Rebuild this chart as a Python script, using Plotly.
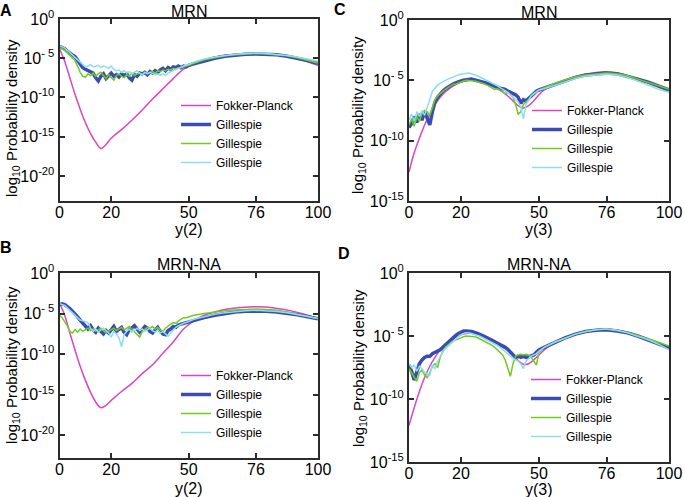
import plotly.graph_objects as go

W, H = 685, 497

# ---------------- data (log10 probability density) ----------------
FP_X_AB = [0, 2, 4, 6, 8, 10, 12, 14, 16, 18, 20, 24, 28, 32, 36, 40, 44, 48,
           52, 56, 60, 65, 70, 76, 80, 85, 90, 95, 100]
FP_A = [-3.8, -5.4, -7.5, -9.6, -11.5, -13.2, -14.6, -15.7, -16.5, -16.0, -15.2,
        -14.1, -12.9, -11.6, -10.2, -8.9, -7.6, -6.4, -5.7, -5.2, -4.85, -4.6,
        -4.45, -4.4, -4.45, -4.6, -4.9, -5.35, -5.9]
FP_B = [-3.7, -5.2, -7.4, -9.5, -11.5, -13.2, -14.7, -15.9, -16.6, -16.3, -15.7,
        -14.6, -13.6, -12.4, -11.3, -9.9, -8.5, -6.9, -5.9, -5.2, -4.8, -4.45,
        -4.25, -4.15, -4.2, -4.4, -4.7, -5.1, -5.6]

FP_X_CD = [0, 2, 4, 6, 8, 10, 12, 14, 16, 18, 20, 22, 24, 26, 28, 30, 32, 34, 36,
           38, 40, 42, 44, 46, 48, 50, 52, 56, 60, 64, 68, 72, 76, 80, 84, 88, 92,
           96, 100]
FP_C = [-12.6, -11.0, -9.8, -8.7, -7.8, -7.0, -6.4, -5.95, -5.6, -5.35, -5.15,
        -5.0, -4.95, -5.0, -5.1, -5.25, -5.45, -5.7, -5.95, -6.3, -6.7, -7.1,
        -7.3, -7.1, -6.7, -6.2, -5.8, -5.35, -5.0, -4.7, -4.5, -4.35, -4.3, -4.4,
        -4.6, -4.9, -5.2, -5.5, -5.8]
FP_D = [-12.1, -10.7, -9.4, -8.3, -7.4, -6.7, -6.1, -5.7, -5.35, -5.1, -4.9,
        -4.8, -4.75, -4.8, -4.9, -5.05, -5.25, -5.5, -5.8, -6.15, -6.55, -6.95,
        -7.25, -7.2, -6.9, -6.5, -6.1, -5.55, -5.15, -4.85, -4.65, -4.5, -4.45,
        -4.55, -4.75, -5.0, -5.3, -5.65, -6.0]

GX = [0, 1, 2, 3, 4, 5, 6, 7, 8, 9, 10, 11, 12, 13, 14, 15, 16, 17, 18, 19, 20,
      21, 22, 23, 24, 25, 26, 27, 28, 29, 30, 31, 32, 33, 34, 35, 36, 37, 38, 39,
      40, 41, 42, 43, 44, 45, 46, 47, 48, 49, 50,
      52, 56, 60, 64, 68, 72, 76, 80, 84, 88, 92, 96, 100]

GA_BLUE = [-3.5, -3.6, -3.8, -4.1, -4.4, -4.6, -4.8, -5.3, -5.8, -6.2,
           -6.4, -6.6, -6.7, -6.9, -7.5, -7.9, -7.3, -7.0, -7.6, -7.2,
           -6.9, -7.3, -7.1, -7.4, -7.0, -7.2, -7.0, -7.5, -7.8, -7.1,
           -7.3, -6.9, -7.0, -6.8, -7.1, -6.7, -6.9, -6.6, -6.8, -6.5,
           -6.3, -6.6, -6.2, -6.4, -6.1, -6.2, -6.0, -6.2, -6.0, -6.1, -5.9,
           -5.7, -5.3, -5.0, -4.75, -4.6, -4.5, -4.45, -4.45, -4.55, -4.75, -5.0, -5.3, -5.65]
GA_GREEN = [-3.7, -3.8, -4.0, -4.3, -4.6, -4.9, -5.3, -6.0, -6.8, -7.3,
            -7.4, -7.0, -7.2, -6.9, -7.3, -7.0, -6.8, -7.2, -7.6, -7.1,
            -7.4, -7.8, -7.2, -7.0, -7.3, -7.5, -7.1, -7.3, -6.9, -7.2,
            -7.0, -6.9, -7.1, -6.8, -6.9, -6.8, -6.7, -6.9, -6.6, -6.7,
            -6.5, -6.6, -6.4, -6.5, -6.3, -6.4, -6.2, -6.2, -6.1, -6.0, -5.9,
            -5.6, -5.2, -4.95, -4.7, -4.55, -4.45, -4.4, -4.45, -4.55, -4.7, -4.95, -5.25, -5.6]
GA_CYAN = [-3.4, -3.5, -3.7, -4.0, -4.3, -4.6, -4.9, -5.2, -5.6, -5.9,
           -6.1, -6.0, -5.8, -6.1, -6.0, -5.9, -6.2, -6.0, -6.1, -6.3,
           -6.0, -6.4, -6.6, -6.5, -6.8, -6.6, -6.9, -6.7, -7.0, -6.8,
           -6.6, -6.9, -7.1, -6.8, -7.0, -6.8, -7.0, -7.1, -7.0, -7.2,
           -7.0, -7.2, -6.9, -6.7, -6.6, -6.4, -6.3, -6.1, -6.0, -5.9, -5.8,
           -5.5, -5.1, -4.85, -4.65, -4.5, -4.4, -4.35, -4.4, -4.5, -4.65, -4.85, -5.1, -5.4]

GB_BLUE = [-3.9, -3.8, -3.9, -4.1, -4.4, -4.7, -5.0, -5.4, -5.8, -6.2,
           -6.6, -6.9, -6.5, -7.0, -7.3, -6.8, -7.2, -7.5, -7.1, -7.4,
           -7.0, -6.6, -7.2, -6.9, -6.7, -7.3, -7.6, -7.0, -6.8, -6.5,
           -6.9, -7.3, -7.0, -6.6, -6.8, -7.2, -7.4, -7.0, -6.7, -7.2,
           -7.5, -7.6, -7.1, -6.9, -6.6, -6.7, -6.4, -6.3, -6.2, -6.1, -6.0,
           -5.8, -5.5, -5.2, -4.95, -4.8, -4.7, -4.65, -4.7, -4.8, -4.95, -5.15, -5.4, -5.65]
GB_GREEN = [-5.2, -5.5, -6.0, -6.5, -7.2, -7.4, -7.0, -7.3, -6.9, -7.2,
            -7.0, -6.8, -7.1, -6.9, -7.2, -7.0, -6.8, -7.1, -7.4, -7.2,
            -7.0, -6.8, -7.1, -6.9, -6.7, -7.0, -6.8, -6.6, -6.9, -7.2,
            -7.5, -7.9, -7.2, -6.9, -6.7, -6.8, -6.6, -6.9, -6.7, -7.0,
            -7.2, -6.8, -6.5, -6.3, -6.1, -6.2, -5.9, -5.7, -5.5, -5.5, -5.4,
            -5.2, -5.0, -4.8, -4.65, -4.55, -4.5, -4.45, -4.5, -4.6, -4.8, -5.05, -5.3, -5.6]
GB_CYAN = [-3.8, -3.9, -4.0, -4.3, -4.6, -4.9, -5.2, -5.5, -5.8, -5.9,
           -6.0, -6.1, -6.8, -7.2, -6.9, -7.3, -7.0, -6.8, -7.1, -7.4,
           -7.9, -7.2, -7.5, -8.0, -9.1, -7.6, -7.2, -6.9, -7.3, -7.0,
           -6.8, -7.1, -6.9, -7.2, -7.0, -6.8, -7.1, -7.3, -7.0, -7.4,
           -7.2, -7.5, -7.8, -7.4, -7.0, -6.7, -6.5, -6.3, -6.2, -6.1, -6.0,
           -5.7, -5.4, -5.1, -4.9, -4.75, -4.65, -4.6, -4.65, -4.75, -4.9, -5.1, -5.35, -5.6]

GC_BLUE = [-8.9, -8.6, -8.0, -8.5, -7.8, -8.3, -7.6, -8.1, -8.7, -7.6,
           -6.8, -6.4, -6.1, -5.9, -5.7, -5.55, -5.4, -5.3, -5.2, -5.1,
           -5.05, -5.0, -4.95, -4.9, -4.9, -4.95, -5.0, -5.05, -5.1, -5.15,
           -5.25, -5.3, -5.4, -5.5, -5.55, -5.65, -5.7, -5.75, -5.9, -6.0,
           -6.1, -6.2, -6.4, -6.9, -6.6, -6.7, -6.5, -6.3, -6.1, -5.9, -5.8,
           -5.65, -5.3, -5.0, -4.75, -4.55, -4.45, -4.4, -4.45, -4.65, -4.9, -5.15, -5.45, -5.8]
GC_GREEN = [-8.7, -8.2, -8.8, -8.0, -8.4, -7.7, -7.5, -7.6, -7.9, -7.2,
            -6.6, -6.3, -6.1, -5.9, -5.75, -5.6, -5.45, -5.35, -5.3, -5.2,
            -5.1, -5.05, -5.0, -5.0, -5.0, -5.05, -5.1, -5.15, -5.25, -5.3,
            -5.4, -5.5, -5.6, -5.75, -5.7, -5.8, -5.95, -6.1, -6.0, -6.2,
            -6.4, -7.0, -7.8, -7.6, -7.0, -6.8, -6.6, -6.3, -6.1, -5.95, -5.8,
            -5.6, -5.25, -4.95, -4.7, -4.55, -4.45, -4.4, -4.45, -4.6, -4.9, -5.15, -5.45, -5.75]
GC_CYAN = [-8.3, -7.8, -8.4, -7.6, -8.0, -7.5, -7.9, -7.3, -6.6, -5.9,
           -5.6, -5.4, -5.25, -5.1, -5.0, -4.9, -4.8, -4.7, -4.6, -4.55,
           -4.5, -4.45, -4.4, -4.4, -4.45, -4.5, -4.6, -4.7, -4.8, -4.9,
           -5.0, -5.1, -5.2, -5.3, -5.45, -5.6, -5.7, -5.85, -6.0, -6.2,
           -6.4, -6.6, -6.8, -7.2, -8.2, -7.0, -6.6, -6.3, -6.1, -5.95, -5.8,
           -5.7, -5.4, -5.1, -4.85, -4.65, -4.55, -4.5, -4.55, -4.75, -5.05, -5.4, -5.75, -6.0]

GD_BLUE = [-7.3, -7.8, -8.5, -7.9, -7.2, -6.9, -6.7, -6.6, -6.6, -6.4,
           -6.3, -6.2, -6.1, -5.9, -5.7, -5.5, -5.3, -5.1, -4.95, -4.8,
           -4.7, -4.6, -4.6, -4.6, -4.65, -4.7, -4.75, -4.85, -4.95, -5.05,
           -5.15, -5.25, -5.35, -5.45, -5.55, -5.65, -5.75, -5.9, -6.05, -6.25,
           -6.5, -6.7, -6.6, -6.7, -6.6, -6.7, -6.65, -6.6, -6.5, -6.3, -6.1,
           -5.9, -5.5, -5.15, -4.85, -4.65, -4.55, -4.5, -4.6, -4.75, -5.0, -5.3, -5.6, -5.95]
GD_GREEN = [-7.6, -7.9, -8.3, -8.6, -7.9, -7.7, -8.1, -8.3, -7.9, -7.4,
            -7.2, -7.5, -6.7, -6.2, -5.9, -5.7, -5.55, -5.4, -5.3, -5.2,
            -5.1, -5.05, -5.0, -5.0, -5.0, -5.05, -5.1, -5.2, -5.3, -5.45,
            -5.55, -5.65, -5.75, -5.9, -6.1, -6.3, -6.5, -6.9, -7.5, -8.2,
            -7.2, -6.6, -6.5, -6.45, -6.5, -6.45, -6.5, -6.7, -7.0, -7.3, -6.3,
            -5.9, -5.5, -5.15, -4.85, -4.65, -4.5, -4.45, -4.55, -4.7, -4.95, -5.2, -5.5, -5.8]
GD_CYAN = [-7.2, -7.5, -7.3, -7.8, -7.4, -7.6, -7.9, -8.0, -8.1, -7.3,
           -7.6, -7.0, -6.6, -6.3, -6.0, -5.8, -5.6, -5.4, -5.2, -5.05,
           -4.9, -4.8, -4.75, -4.75, -4.8, -4.85, -4.9, -5.0, -5.1, -5.2,
           -5.3, -5.4, -5.5, -5.6, -5.75, -5.9, -6.05, -6.2, -6.4, -6.6,
           -6.8, -6.9, -7.0, -7.2, -7.6, -7.0, -6.8, -6.6, -6.5, -6.4, -6.2,
           -5.9, -5.5, -5.15, -4.85, -4.65, -4.5, -4.45, -4.55, -4.75, -5.0, -5.3, -5.65, -6.1]

X_TICKS = [0, 20, 50, 76, 100]
Y_TICKS_AB = [0, -5, -10, -15, -20]
Y_TICKS_CD = [0, -5, -10, -15]
Y_TICKTEXT_AB = ["10<sup>0</sup>", "10<sup>- 5</sup>", "10<sup>-10</sup>", "10<sup>-15</sup>", "10<sup>-20</sup>"]
Y_TICKTEXT_CD = ["10<sup>0</sup>", "10<sup>- 5</sup>", "10<sup>-10</sup>", "10<sup>-15</sup>"]
SERIES_NAMES = ["Fokker-Planck", "Gillespie", "Gillespie", "Gillespie"]
TITLES = ["MRN", "MRN-NA", "MRN", "MRN-NA"]
XLABELS = ["y(2)", "y(2)", "y(3)", "y(3)"]
LETTERS = ["A", "B", "C", "D"]

# ---------------- style ----------------
FONT = "Liberation Sans, Arial, Helvetica, sans-serif"
C_FP = "#dc44c0"
C_BLUE = "#3c4bb2"
C_GREEN = "#6fcc1e"
C_CYAN = "#8cdcf2"
AXC = "#2b2b2b"

# panel geometry in pixels: (x0, x1, ytop, ybottom)
panels = [
    dict(box=(59.5, 318, 19, 201), yr=(-23.2, 0), fpx=FP_X_AB, fp=FP_A,
         g=(GA_BLUE, GA_GREEN, GA_CYAN), yt=Y_TICKS_AB, ytt=Y_TICKTEXT_AB,
         leg=(176, 91), letter=(6, 10), title_y=11, xl_y=229, yl=(12, 118)),
    dict(box=(59.5, 318, 273, 458), yr=(-22.8, 0), fpx=FP_X_AB, fp=FP_B,
         g=(GB_BLUE, GB_GREEN, GB_CYAN), yt=Y_TICKS_AB, ytt=Y_TICKTEXT_AB,
         leg=(176, 361), letter=(6, 248), title_y=264, xl_y=488, yl=(12, 365)),
    dict(box=(409, 669, 20, 201), yr=(-15, 0), fpx=FP_X_CD, fp=FP_C,
         g=(GC_BLUE, GC_GREEN, GC_CYAN), yt=Y_TICKS_CD, ytt=Y_TICKTEXT_CD,
         leg=(527, 96), letter=(340, 9), title_y=12, xl_y=229, yl=(359, 115)),
    dict(box=(409, 669, 273, 462), yr=(-15, 0), fpx=FP_X_CD, fp=FP_D,
         g=(GD_BLUE, GD_GREEN, GD_CYAN), yt=Y_TICKS_CD, ytt=Y_TICKTEXT_CD,
         leg=(526, 365), letter=(344, 253), title_y=264, xl_y=489, yl=(359, 368)),
]

fig = go.Figure()
layout = dict(width=W, height=H, margin=dict(l=0, r=0, t=0, b=0, autoexpand=False),
              paper_bgcolor="white", plot_bgcolor="white",
              font=dict(family=FONT, color="black"), annotations=[])

for i, p in enumerate(panels):
    n = "" if i == 0 else str(i + 1)
    xa, ya = "x" + n, "y" + n
    lg = "legend" + n
    x0, x1, yt0, yb0 = p["box"]
    axis_common = dict(showline=True, linecolor=AXC, linewidth=2, mirror="ticks",
                       ticks="inside", ticklen=5, tickwidth=1.5, tickcolor=AXC,
                       showgrid=False, zeroline=False, automargin=False,
                       tickfont=dict(family=FONT, size=16, color="black"))
    layout["xaxis" + n] = dict(axis_common, domain=[x0 / W, x1 / W], range=[0, 100],
                               tickvals=X_TICKS, anchor=ya, ticklabelstandoff=-4)
    layout["yaxis" + n] = dict(axis_common, domain=[1 - yb0 / H, 1 - yt0 / H],
                               range=list(p["yr"]), tickvals=p["yt"], ticktext=p["ytt"],
                               anchor=xa)
    series = [(p["fpx"], p["fp"], C_FP, 1.5, "spline"),
              (GX, p["g"][0], C_BLUE, 3.5, "linear"),
              (GX, p["g"][1], C_GREEN, 1.5, "linear"),
              (GX, p["g"][2], C_CYAN, 1.5, "linear")]
    for k, (xs, ys, col, w, shape) in enumerate(series):
        fig.add_trace(go.Scatter(x=xs, y=ys, mode="lines", name=SERIES_NAMES[k],
                                 line=dict(color=col, width=w, shape=shape),
                                 xaxis=xa, yaxis=ya, legend=lg))
    lx, ly = p["leg"]
    layout[lg] = dict(x=lx / W, y=1 - ly / H, xanchor="left", yanchor="top",
                      bgcolor="rgba(0,0,0,0)", borderwidth=0,
                      font=dict(family=FONT, size=12, color="black"))
    cx = (x0 + x1) / 2
    layout["annotations"] += [
        dict(text=TITLES[i], x=cx / W, y=1 - p["title_y"] / H, xref="paper", yref="paper",
             showarrow=False, xanchor="center", yanchor="middle",
             font=dict(family=FONT, size=16, color="black")),
        dict(text=XLABELS[i], x=cx / W, y=1 - p["xl_y"] / H, xref="paper", yref="paper",
             showarrow=False, xanchor="center", yanchor="middle",
             font=dict(family=FONT, size=16, color="black")),
        dict(text="log<sub>10</sub> Probability density", x=p["yl"][0] / W,
             y=1 - p["yl"][1] / H, xref="paper", yref="paper", showarrow=False,
             textangle=-90, xanchor="center", yanchor="middle",
             font=dict(family=FONT, size=15, color="black")),
        dict(text="<b>" + LETTERS[i] + "</b>", x=p["letter"][0] / W,
             y=1 - p["letter"][1] / H, xref="paper", yref="paper", showarrow=False,
             xanchor="center", yanchor="middle",
             font=dict(family=FONT, size=16, color="black")),
    ]

fig.update_layout(**layout)
fig.write_html("out.html", config={"displayModeBar": False},
               post_script="document.body.style.margin='0px';document.body.style.padding='0px';")
